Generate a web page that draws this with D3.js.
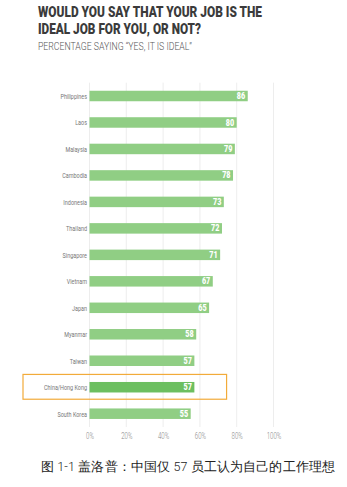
<!DOCTYPE html>
<html>
<head>
<meta charset="utf-8">
<script src="https://cdn.jsdelivr.net/npm/d3@7"></script>
<style>
  body { margin: 0; background: #fff; }
  #chart { width: 347px; height: 487px; }
  text { font-family: Roboto, "Liberation Sans", sans-serif; }
</style>
</head>
<body>
<div id="chart"></div>
<script>
// data
var countries = ['Philippines', 'Laos', 'Malaysia', 'Cambodia', 'Indonesia', 'Thailand',
  'Singapore', 'Vietnam', 'Japan', 'Myanmar', 'Taiwan', 'China/Hong Kong', 'South Korea'];
var values = [86, 80, 79, 78, 73, 72, 71, 67, 65, 58, 57, 57, 55];
var ticks = [0, 20, 40, 60, 80, 100];
var highlight = 'China/Hong Kong';

var titleLines = ['WOULD YOU SAY THAT YOUR JOB IS THE', 'IDEAL JOB FOR YOU, OR NOT?'];
var subtitle = 'PERCENTAGE SAYING \u201CYES, IT IS IDEAL\u201D';
var caption = '图 1-1 盖洛普：中国仅 57 员工认为自己的工作理想';

// squeeze text horizontally, the original uses a condensed face
function condense(sel, f) {
  sel.each(function () {
    var w = this.getComputedTextLength();
    d3.select(this)
      .attr('textLength', w * f)
      .attr('lengthAdjust', 'spacingAndGlyphs');
  });
}

var svg = d3.select('#chart').append('svg')
  .attr('width', 347)
  .attr('height', 487);

var x = d3.scaleLinear().domain([0, 100]).range([89.5, 273.5]);
var y = d3.scalePoint().domain(countries).range([96, 413.7]);
var barH = 10.5;

// Title
svg.selectAll('text.title')
    .data(titleLines)
    .enter()
  .append('text')
    .attr('class', 'title')
    .attr('x', 38)
    .attr('y', function (d, i) { return 17.3 + i * 16.3; })
    .attr('font-size', 14)
    .attr('font-weight', 900)
    .attr('fill', '#3b3b3b')
    .text(function (d) { return d; })
    .attr('textLength', function (d, i) { return i === 0 ? 224 : 163; })
    .attr('lengthAdjust', 'spacingAndGlyphs');

svg.append('text')
  .attr('x', 38)
  .attr('y', 50.3)
  .attr('font-size', 11)
  .attr('font-weight', 300)
  .attr('fill', '#555')
  .text(subtitle)
  .attr('textLength', 154)
  .attr('lengthAdjust', 'spacingAndGlyphs');

// Grid lines
svg.append('g').selectAll('line')
    .data(ticks)
    .enter()
  .append('line')
    .attr('x1', function (d) { return x(d); })
    .attr('x2', function (d) { return x(d); })
    .attr('y1', 82.7)
    .attr('y2', 427)
    .attr('stroke', '#e8e8e8')
    .attr('stroke-width', 0.8);

// Highlight box
var hy = y(highlight);
svg.append('rect')
  .attr('x', 23)
  .attr('y', hy - 12.8)
  .attr('width', x(74.5) - 23)
  .attr('height', 24.8)
  .attr('fill', 'none')
  .attr('stroke', '#f2ab3a')
  .attr('stroke-width', 1.2);

var rows = countries.map(function (c, i) { return { name: c, value: values[i] }; });

// Bars
svg.append('g').selectAll('rect')
    .data(rows)
    .enter()
  .append('rect')
    .attr('x', x(0))
    .attr('y', function (d) { return y(d.name) - barH / 2; })
    .attr('width', function (d) { return x(d.value) - x(0); })
    .attr('height', barH)
    .attr('fill', function (d) { return d.name === highlight ? '#6cbf60' : '#90ce84'; });

// Value labels
svg.append('g').selectAll('text')
    .data(rows)
    .enter()
  .append('text')
    .attr('x', function (d) { return x(d.value) - 2.5; })
    .attr('y', function (d) { return y(d.name); })
    .attr('dy', '0.36em')
    .attr('text-anchor', 'end')
    .attr('font-size', 8.5)
    .attr('font-weight', 900)
    .attr('fill', '#fff')
    .text(function (d) { return d.value; })
    .call(condense, 0.85);

// Country labels
svg.append('g').selectAll('text')
    .data(rows)
    .enter()
  .append('text')
    .attr('x', 87)
    .attr('y', function (d) { return y(d.name); })
    .attr('dy', '0.35em')
    .attr('text-anchor', 'end')
    .attr('font-size', 8)
    .attr('fill', '#777')
    .text(function (d) { return d.name; })
    .call(condense, 0.68);

// Axis
var axis = svg.append('g')
  .attr('transform', 'translate(0,429)')
  .call(d3.axisBottom(x).tickValues(ticks).tickSize(0).tickFormat(function (d) { return d + '%'; }));
axis.select('.domain').remove();
axis.selectAll('text')
  .attr('font-family', null)
  .attr('font-size', 9.5)
  .attr('font-weight', 300)
  .attr('fill', '#888')
  .call(condense, 0.64);

// Caption
svg.append('text')
  .attr('x', 41)
  .attr('y', 471)
  .attr('font-family', '"Noto Sans CJK SC", sans-serif')
  .attr('font-size', 12.5)
  .attr('font-weight', 300)
  .attr('fill', '#222')
  .text(caption)
  .attr('textLength', 294)
  .attr('lengthAdjust', 'spacing');
</script>
</body>
</html>
